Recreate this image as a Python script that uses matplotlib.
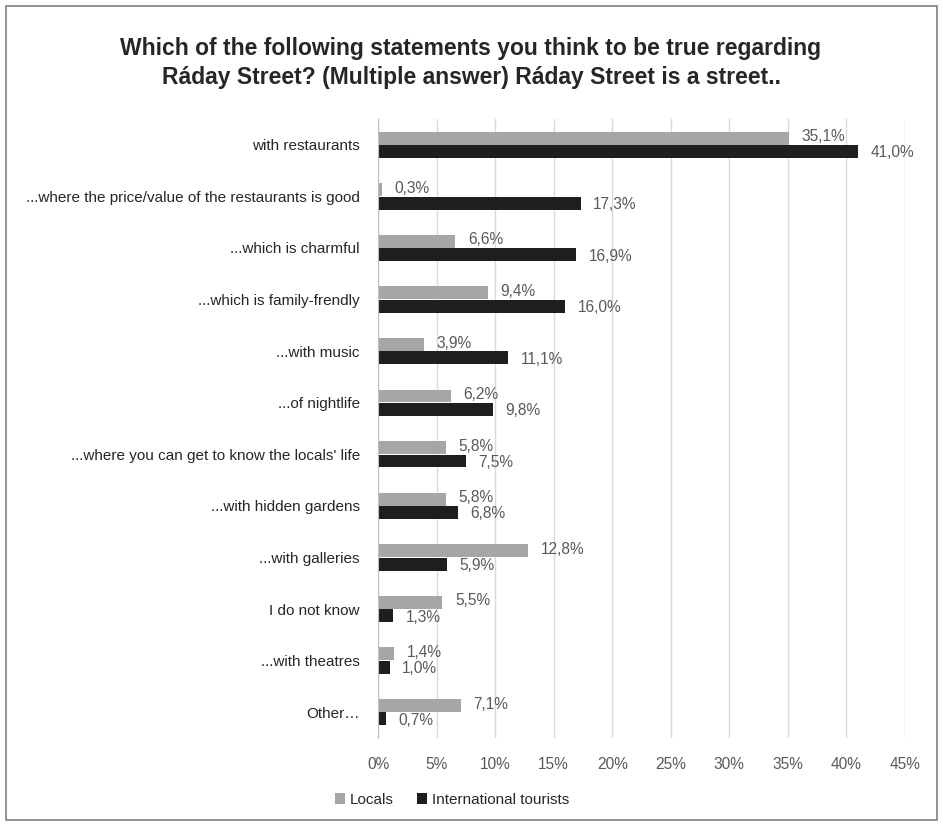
import matplotlib
matplotlib.use("Agg")
import matplotlib.pyplot as plt
from matplotlib.patches import Rectangle
from matplotlib.ticker import FuncFormatter

plt.rcParams['font.family'] = ['Liberation Sans Narrow', 'Liberation Sans', 'DejaVu Sans']

categories = [
    "with restaurants",
    "...where the price/value of the restaurants is good",
    "...which is charmful",
    "...which is family-frendly",
    "...with music",
    "...of nightlife",
    "...where you can get to know the locals' life",
    "...with hidden gardens",
    "...with galleries",
    "I do not know",
    "...with theatres",
    "Other…",
]
locals_pct = [35.1, 0.3, 6.6, 9.4, 3.9, 6.2, 5.8, 5.8, 12.8, 5.5, 1.4, 7.1]
tourists_pct = [41.0, 17.3, 16.9, 16.0, 11.1, 9.8, 7.5, 6.8, 5.9, 1.3, 1.0, 0.7]
series_names = ["Locals", "International tourists"]
x_ticks = [0, 5, 10, 15, 20, 25, 30, 35, 40, 45]

gray = "#A6A6A6"
dark = "#1E1E1E"
label_col = "#595959"
text_col = "#262626"

W, H = 943, 826
fig = plt.figure(figsize=(W / 100, H / 100), dpi=100)

# outer frame
fig.patches.append(Rectangle((6 / W, 6 / H), (W - 12) / W, (H - 12) / H,
                             transform=fig.transFigure, fill=False,
                             edgecolor="#7F7F7F", linewidth=1.2))

ax = fig.add_axes([378 / W, 1 - 738 / H, (905 - 378) / W, (738 - 119) / H])

n = len(categories)
ypos = list(range(n))
h = 0.25
off = 0.13
ax.barh([y - off for y in ypos], locals_pct, height=h, color=gray, label=series_names[0], zorder=3)
ax.barh([y + off for y in ypos], tourists_pct, height=h, color=dark, label=series_names[1], zorder=3)

for y, v in zip(ypos, locals_pct):
    ax.annotate(f"{v:.1f}%".replace(".", ","), (v, y - off), xytext=(9, 1),
                textcoords="offset points", va="center", ha="left",
                fontsize=11.2, color=label_col)
for y, v in zip(ypos, tourists_pct):
    ax.annotate(f"{v:.1f}%".replace(".", ","), (v, y + off), xytext=(9, -1),
                textcoords="offset points", va="center", ha="left",
                fontsize=11.2, color=label_col)

ax.set_ylim(n - 0.5, -0.5)
ax.set_xlim(0, 45)
ax.set_xticks(x_ticks)
ax.xaxis.set_major_formatter(FuncFormatter(lambda v, p: f"{v:.0f}%"))
ax.set_yticks(ypos)
ax.set_yticklabels(categories)
ax.tick_params(axis="both", length=0, labelsize=11, colors=text_col)
ax.tick_params(axis="x", pad=14, colors=label_col, labelsize=11.2)
ax.tick_params(axis="y", pad=13)
ax.grid(axis="x", color="#D9D9D9", linewidth=1, zorder=0)
for s in ["top", "right", "bottom"]:
    ax.spines[s].set_visible(False)
ax.spines["left"].set_color("#BFBFBF")
ax.spines["left"].set_zorder(4)

fig.text(471 / W, 1 - 63 / H,
         "Which of the following statements you think to be true regarding\n"
         "Ráday Street? (Multiple answer) Ráday Street is a street..",
         ha="center", va="center", fontsize=16.5, fontweight="bold",
         color=text_col, linespacing=1.35)

fig.legend(loc="center", bbox_to_anchor=(452 / W, 1 - 800 / H), ncol=2,
           frameon=False, fontsize=11, handlelength=0.7, handleheight=0.7,
           handletextpad=0.3, columnspacing=1.5, labelcolor=text_col)

fig.savefig("out.png", dpi=100)
